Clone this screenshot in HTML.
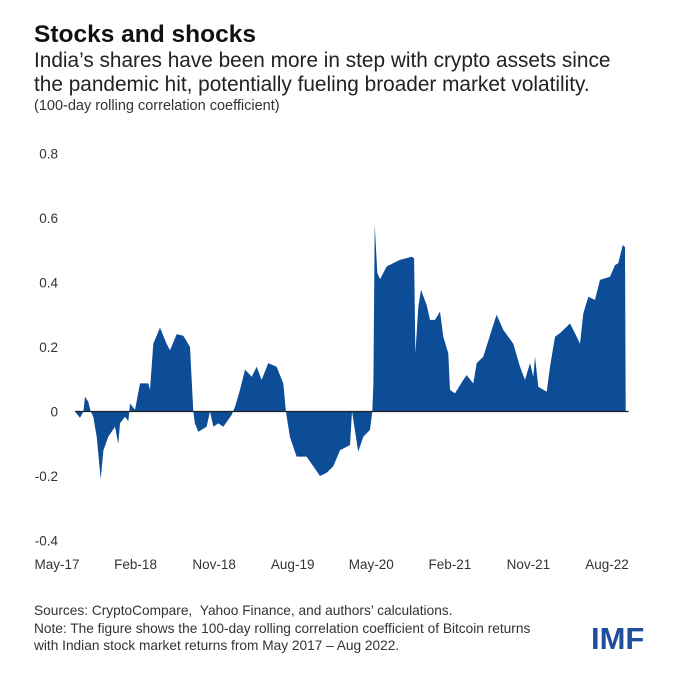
<!DOCTYPE html>
<html><head><meta charset="utf-8">
<style>
body{margin:0;background:#fff;}
#wrap{position:relative;width:680px;height:680px;overflow:hidden;font-family:"Liberation Sans",sans-serif;color:#222;}
.t{position:absolute;white-space:nowrap;}
</style></head>
<body>
<div id="wrap">
<div class="t" style="left:34px;top:21px;font-size:24.5px;font-weight:bold;color:#111;">Stocks and shocks</div>
<div class="t" style="left:34px;top:49px;font-size:20.8px;line-height:24px;color:#222;">India’s shares have been more in step with crypto assets since<br>the pandemic hit, potentially fueling broader market volatility.</div>
<div class="t" style="left:34px;top:98px;font-size:14.5px;color:#333;">(100-day rolling correlation coefficient)</div>
<svg id="chart" width="680" height="680" style="position:absolute;left:0;top:0;"></svg>
<div class="t" style="left:34px;top:602px;font-size:13.7px;line-height:17.5px;color:#333;">Sources: CryptoCompare, &nbsp;Yahoo Finance, and authors’ calculations.<br>Note: The figure shows the 100-day rolling correlation coefficient of Bitcoin returns<br>with Indian stock market returns from May 2017 – Aug 2022.</div>
<div class="t" style="left:591px;top:621px;font-size:31px;font-weight:bold;color:#1f4e9c;letter-spacing:0px;">IMF</div>
</div>
<script>
// months since May-2017
const months=[2.06,2.63,3.02,3.21,3.59,3.86,4.16,4.55,5.0,5.31,5.88,6.64,7.02,7.22,7.79,8.17,8.28,8.36,8.93,9.51,10.46,10.65,11.03,11.8,12.56,12.94,13.71,14.47,15.23,15.61,15.8,16.19,17.14,17.53,17.91,18.48,19.05,20.0,20.39,20.96,21.53,22.3,22.87,23.44,24.2,25.16,25.92,26.22,26.68,27.45,28.59,29.36,30.13,30.89,31.65,32.42,33.56,33.79,34.5,35.09,35.85,36.12,36.24,36.39,36.69,37.0,37.77,39.29,40.63,40.9,41.05,41.39,41.7,42.35,42.73,43.3,43.87,44.25,44.82,45.02,45.59,46.54,46.92,47.69,48.07,48.83,49.79,50.36,51.12,52.27,53.03,53.61,54.18,54.56,54.75,55.13,56.09,56.47,57.04,57.62,58.76,59.53,59.91,60.29,60.86,61.63,62.2,63.34,63.92,64.3,64.8,65.06,65.14];
const values=[0,-0.02,0,0.046,0.03,0,-0.016,-0.078,-0.21,-0.12,-0.078,-0.047,-0.1,-0.037,-0.016,-0.03,0,0.025,0.005,0.087,0.087,0.067,0.21,0.26,0.21,0.19,0.24,0.235,0.2,0,-0.037,-0.063,-0.047,0,-0.047,-0.037,-0.047,-0.011,0.015,0.067,0.13,0.108,0.139,0.098,0.15,0.139,0.087,0,-0.078,-0.14,-0.14,-0.17,-0.2,-0.19,-0.17,-0.12,-0.104,0,-0.125,-0.078,-0.057,0,0.087,0.58,0.43,0.41,0.45,0.47,0.48,0.475,0.18,0.325,0.377,0.33,0.284,0.284,0.31,0.232,0.18,0.067,0.056,0.098,0.113,0.087,0.15,0.17,0.253,0.3,0.253,0.21,0.139,0.098,0.15,0.108,0.17,0.077,0.061,0.139,0.232,0.243,0.273,0.232,0.21,0.304,0.356,0.346,0.408,0.418,0.454,0.46,0.516,0.51,0];
const yTicks=[0.8,0.6,0.4,0.2,0,-0.2,-0.4];
const yTickLabels=["0.8","0.6","0.4","0.2","0","-0.2","-0.4"];
const xTickMonths=[0,9,18,27,36,45,54,63];
const xTickLabels=["May-17","Feb-18","Nov-18","Aug-19","May-20","Feb-21","Nov-21","Aug-22"];

const svg=document.getElementById('chart');
const NS='http://www.w3.org/2000/svg';
const xs=m=>57+m*8.73;
const ys=v=>411.5-v*322.5;

yTicks.forEach((t,i)=>{
  const e=document.createElementNS(NS,'text');
  
  
  e.setAttribute('x',58);e.setAttribute('y',ys(t)+5);
  e.setAttribute('text-anchor','end');
  e.setAttribute('font-family','Liberation Sans, sans-serif');
  e.setAttribute('font-size','13.5');e.setAttribute('fill','#333');
  e.textContent=yTickLabels[i];svg.appendChild(e);
});
xTickMonths.forEach((m,i)=>{
  const e=document.createElementNS(NS,'text');
  
  
  e.setAttribute('x',xs(m));e.setAttribute('y',569);
  e.setAttribute('text-anchor','middle');
  e.setAttribute('font-family','Liberation Sans, sans-serif');
  e.setAttribute('font-size','13.5');e.setAttribute('fill','#333');
  e.textContent=xTickLabels[i];svg.appendChild(e);
});
let d='M'+xs(months[0])+','+ys(0);
months.forEach((m,i)=>{d+=' L'+xs(m).toFixed(1)+','+ys(values[i]).toFixed(1);});
d+=' L'+xs(months[months.length-1])+','+ys(0)+' Z';
const area=document.createElementNS(NS,'path');


area.setAttribute('d',d);area.setAttribute('fill','#0d4c97');
svg.appendChild(area);
const zl=document.createElementNS(NS,'line');


zl.setAttribute('x1',xs(months[0]));zl.setAttribute('x2',xs(months[months.length-1])+3);
zl.setAttribute('y1',ys(0));zl.setAttribute('y2',ys(0));
zl.setAttribute('stroke','#222');zl.setAttribute('stroke-width','1.2');
svg.appendChild(zl);
</script>
</body></html>
